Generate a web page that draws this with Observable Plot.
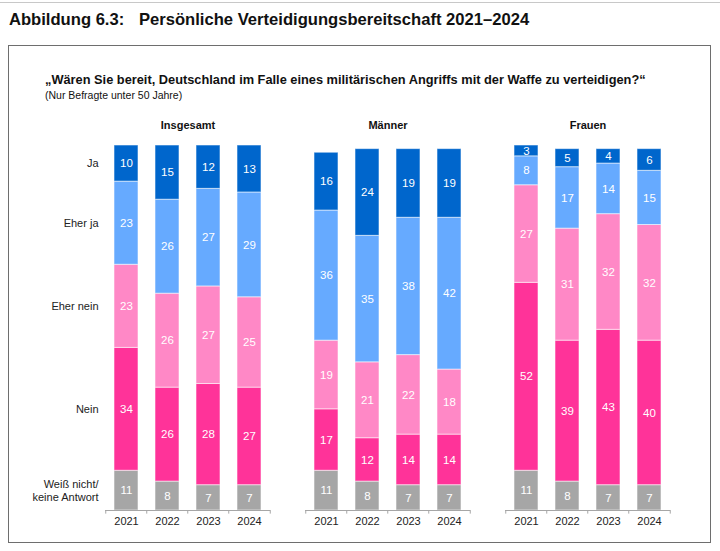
<!DOCTYPE html>
<html><head><meta charset="utf-8">
<script src="https://cdn.jsdelivr.net/npm/d3@7"></script>
<script src="https://cdn.jsdelivr.net/npm/@observablehq/plot@0.6"></script>
<style>
html,body{margin:0;padding:0;background:#fff;}
body{position:relative;width:720px;height:551px;overflow:hidden;font-family:"Liberation Sans",Arial,sans-serif;color:#111;}
#topline{position:absolute;left:0;top:2px;width:720px;height:0;border-top:1.5px solid #c8c8c8;}
.ttl{position:absolute;top:12px;font-size:16.6px;font-weight:bold;line-height:1;white-space:nowrap;}
#box{position:absolute;left:8px;top:45px;width:703px;height:498px;border:1.5px solid #6e6e6e;box-sizing:border-box;}
#q{position:absolute;left:45px;top:74px;font-size:12.8px;font-weight:bold;line-height:1;white-space:nowrap;}
#sub{position:absolute;left:45px;top:90px;font-size:10.5px;line-height:1;white-space:nowrap;}
#chart{position:absolute;left:0;top:110px;}
</style></head>
<body>
<div id="topline"></div>
<div class="ttl" style="left:9px">Abbildung 6.3:</div>
<div class="ttl" style="left:139px">Persönliche Verteidigungsbereitschaft 2021–2024</div>
<div id="box"></div>
<div id="q">„Wären Sie bereit, Deutschland im Falle eines militärischen Angriffs mit der Waffe zu verteidigen?“</div>
<div id="sub">(Nur Befragte unter 50 Jahre)</div>
<div id="chart"></div>
<script>
const groups = ["Insgesamt", "Männer", "Frauen"];
const years = ["2021", "2022", "2023", "2024"];
// bottom to top
const categories = ["Weiß nicht/keine Antwort", "Nein", "Eher nein", "Eher ja", "Ja"];
const rowLabels = ["Weiß nicht/\nkeine Antwort", "Nein", "Eher nein", "Eher ja", "Ja"];
const colors = ["#a6a6a6", "#ff3399", "#ff88c6", "#66aaff", "#0066cc"];

// values per category (bottom to top), per year 2021..2024
const insgesamt = {
  "Weiß nicht/keine Antwort": [11, 8, 7, 7],
  "Nein": [34, 26, 28, 27],
  "Eher nein": [23, 26, 27, 25],
  "Eher ja": [23, 26, 27, 29],
  "Ja": [10, 15, 12, 13]
};
const maenner = {
  "Weiß nicht/keine Antwort": [11, 8, 7, 7],
  "Nein": [17, 12, 14, 14],
  "Eher nein": [19, 21, 22, 18],
  "Eher ja": [36, 35, 38, 42],
  "Ja": [16, 24, 19, 19]
};
const frauen = {
  "Weiß nicht/keine Antwort": [11, 8, 7, 7],
  "Nein": [52, 39, 43, 40],
  "Eher nein": [27, 31, 32, 32],
  "Eher ja": [8, 17, 14, 15],
  "Ja": [3, 5, 4, 6]
};
const byGroup = {"Insgesamt": insgesamt, "Männer": maenner, "Frauen": frauen};

const rows = [];
for (const g of groups) {
  for (let yi = 0; yi < years.length; yi++) {
    categories.forEach((c, ci) => {
      rows.push({group: g, year: years[yi], cat: c, label: rowLabels[ci], value: byGroup[g][c][yi]});
    });
  }
}
const firstBar = rows.filter(d => d.group === "Insgesamt" && d.year === "2021");
const tickRows = groups.flatMap(g => years.map(y => ({group: g, year: y})));
const endTicks = groups.map(g => ({group: g, year: years[years.length - 1]}));
const groupRows = groups.map(g => ({group: g}));

const half = 166 / 4 / 2;

const chart = Plot.plot({
  width: 720,
  height: 430,
  marginTop: 35,
  marginBottom: 30,
  marginLeft: 104,
  marginRight: 48,
  style: {fontFamily: "'Liberation Sans', Arial, sans-serif", fontSize: "11px", color: "#222", background: "transparent"},
  fx: {domain: groups, paddingInner: 0.174, paddingOuter: 0, axis: null},
  x: {domain: years, paddingInner: 0.42, paddingOuter: 0.21, axis: null},
  y: {domain: [0, 101], axis: null},
  color: {domain: categories, range: colors},
  marks: [
    Plot.barY(rows, Plot.stackY({
      fx: "group", x: "year", y: "value", z: "cat", fill: "cat",
      stroke: "white", strokeOpacity: 0.55, strokeWidth: 1
    })),
    Plot.text(rows, Plot.stackY({
      fx: "group", x: "year", y: "value", z: "cat", text: d => String(d.value),
      fill: "white", fontSize: 11.5
    })),
    Plot.text(firstBar, Plot.stackY({
      fx: "group", x: "year", y: "value", z: "cat", text: "label",
      textAnchor: "end", dx: -28, fill: "#222", fontSize: 11, lineHeight: 1.1
    })),
    Plot.ruleY(groupRows, {fx: "group", y: () => 0, stroke: "#a6a6a6", strokeWidth: 1}),
    Plot.ruleX(tickRows, {fx: "group", x: "year", y1: () => 0, y2: () => -1, dx: -half, stroke: "#a6a6a6"}),
    Plot.ruleX(endTicks, {fx: "group", x: "year", y1: () => 0, y2: () => -1, dx: half, stroke: "#a6a6a6"}),
    Plot.text(tickRows, {fx: "group", x: "year", y: () => 0, text: "year", lineAnchor: "top", dy: 7, fontSize: 11, fill: "#222"}),
    Plot.text(groupRows, {fx: "group", frameAnchor: "top", dy: -20, lineAnchor: "middle", text: "group",
      fontWeight: "bold", fontSize: 11, fill: "#111"})
  ]
});
document.getElementById("chart").appendChild(chart);
</script>
</body></html>
